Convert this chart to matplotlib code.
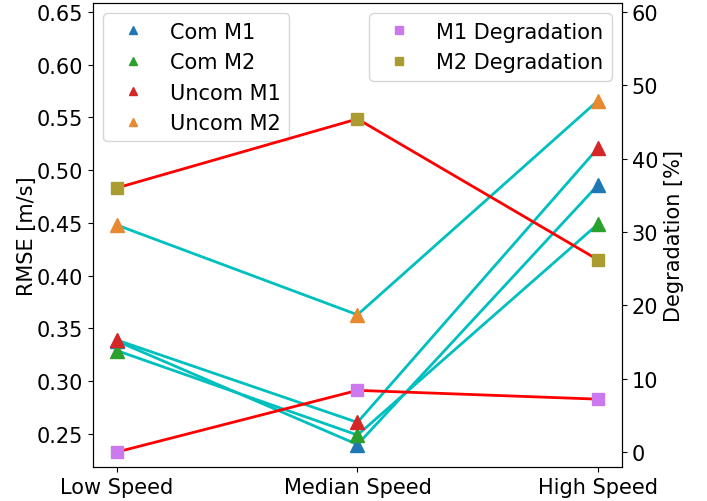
import matplotlib
matplotlib.use("Agg")
import matplotlib.pyplot as plt

speeds = ["Low Speed", "Median Speed", "High Speed"]

com_m1 = [0.338, 0.240, 0.486]
com_m2 = [0.329, 0.249, 0.449]
uncom_m1 = [0.339, 0.261, 0.521]
uncom_m2 = [0.448, 0.363, 0.566]

m1_degradation = [0.0, 8.4, 7.2]
m2_degradation = [36.0, 45.4, 26.2]

rmse_series = [
    ("Com M1", com_m1, "tab:blue"),
    ("Com M2", com_m2, "tab:green"),
    ("Uncom M1", uncom_m1, "tab:red"),
    ("Uncom M2", uncom_m2, "#e6892f"),
]
deg_series = [
    ("M1 Degradation", m1_degradation, "#cc79ef"),
    ("M2 Degradation", m2_degradation, "#ab9c32"),
]

plt.rcParams["font.size"] = 15

fig = plt.figure(figsize=(7.07, 5.02), dpi=100)
ax = fig.add_axes([0.1315, 0.0677, 0.7483, 0.9243])
x = list(range(len(speeds)))

# cyan connectors first, then the markers on top
for label, vals, color in rmse_series:
    ax.plot(x, vals, "c-", linewidth=2, zorder=1)
for label, vals, color in rmse_series:
    ax.plot(x, vals, "^", color=color, markersize=10, label=label, zorder=2)

ax.set_xticks(x)
ax.set_xticklabels(speeds)
ax.set_xlim(-0.1, 2.1)
ax.set_ylim(0.2187, 0.6585)
ax.set_yticks([0.25, 0.30, 0.35, 0.40, 0.45, 0.50, 0.55, 0.60, 0.65])
ax.set_ylabel("RMSE [m/s]", labelpad=0)
ax.legend(loc="upper left", fontsize=15, markerscale=0.6)

ax2 = ax.twinx()
for label, vals, color in deg_series:
    ax2.plot(x, vals, "r-", linewidth=2, zorder=1)
for label, vals, color in deg_series:
    ax2.plot(x, vals, "s", color=color, markersize=9, label=label, zorder=2)
ax2.set_ylim(-2.05, 61.2)
ax2.set_ylabel("Degradation [%]")
ax2.legend(loc="upper right", fontsize=15, markerscale=0.6)

fig.savefig("out.png", dpi=100)
